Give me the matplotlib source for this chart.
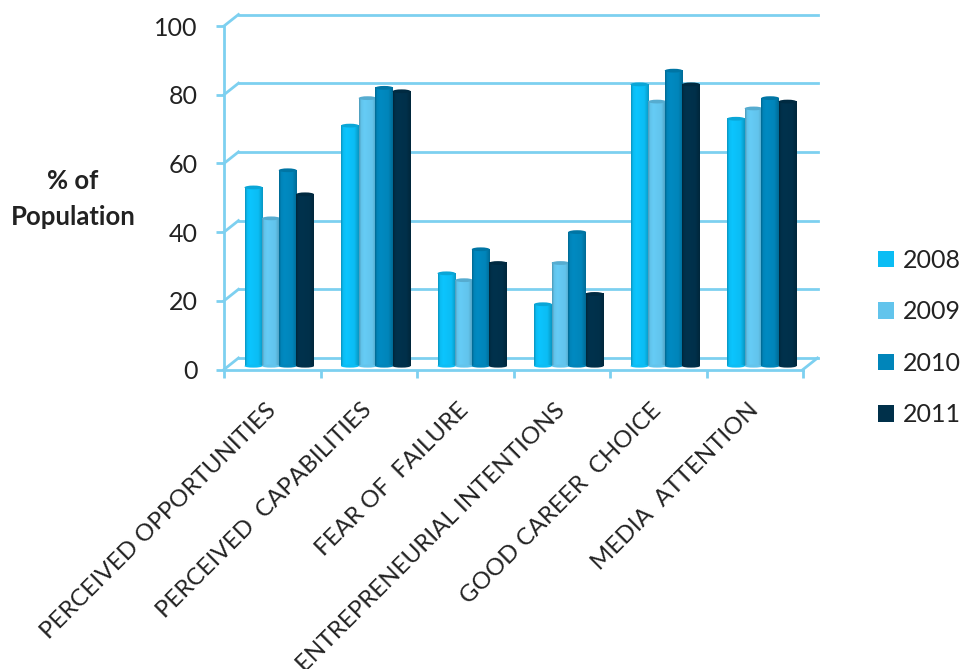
import numpy as np
import matplotlib
matplotlib.use("Agg")
import matplotlib.pyplot as plt
from matplotlib.colors import LinearSegmentedColormap, to_rgb
from matplotlib.patches import Ellipse, Patch
from matplotlib.transforms import ScaledTranslation

plt.rcParams['font.family'] = ['Lato', 'DejaVu Sans']

# ---------------- Data ----------------
categories = ["PERCEIVED OPPORTUNITIES", "PERCEIVED  CAPABILITIES", "FEAR OF  FAILURE",
              "ENTREPRENEURIAL INTENTIONS", "GOOD CAREER  CHOICE", "MEDIA  ATTENTION"]
years = ["2008", "2009", "2010", "2011"]
y2008 = [52, 70, 27, 18, 82, 72]
y2009 = [43, 78, 25, 30, 77, 75]
y2010 = [57, 81, 34, 39, 86, 78]
y2011 = [50, 80, 30, 21, 82, 77]
y_ticks = [0, 20, 40, 60, 80, 100]

series = [y2008, y2009, y2010, y2011]
colors = ['#0bbdf4', '#62c4ec', '#0085ba', '#00304a']
grid_color = '#7dd0f0'
text_color = '#222222'

# ---------------- Layout ----------------
W, H = 963, 669
fig = plt.figure(figsize=(W / 100, H / 100), dpi=100)
ax = fig.add_axes([224 / W, 1 - 369.5 / H, (803 - 224) / W, (369.5 - 26) / H])
ax.set_xlim(-0.5, 5.5)
ax.set_ylim(0, 100)
ax.patch.set_visible(False)

# Back wall sits up and to the right of the front axes
dx_px, dy_px = 14.5, 11.5
dx = dx_px * 6 / 579
dy = dy_px * 100 / 343.5
back = ax.transData + ScaledTranslation(dx_px / 100, dy_px / 100, fig.dpi_scale_trans)
for v in y_ticks:
    ax.plot([-0.5, 5.5], [v, v], color=grid_color, lw=2, transform=back, clip_on=False, zorder=1)
    ax.plot([-0.5, -0.5 + dx], [v, v + dy], color=grid_color, lw=2, clip_on=False, zorder=1)
ax.plot([5.5, 5.5 + dx], [0, dy], color=grid_color, lw=2, clip_on=False, zorder=1)

# ---------------- Bars ----------------
bar_w = 0.185
offsets = [-0.195, -0.012, 0.16, 0.34]
shade_pos = [0, 0.12, 0.3, 0.75, 1]
shade_val = [0.78, 1.0, 1.04, 1.0, 0.8]
base = 1
grad = np.linspace(0, 1, 64).reshape(1, -1)

z = 3
for j, (vals, c) in enumerate(zip(series, colors)):
    rgb = np.array(to_rgb(c))
    cmap = LinearSegmentedColormap.from_list(
        years[j], [(p, tuple(np.clip(rgb * s, 0, 1))) for p, s in zip(shade_pos, shade_val)])
    for i, v in enumerate(vals):
        x = i + offsets[j]
        top = base + v
        ax.imshow(grad, extent=[x - bar_w / 2, x + bar_w / 2, base, top], cmap=cmap,
                  aspect='auto', zorder=z, interpolation='bilinear')
        ax.add_patch(Ellipse((x, base), bar_w, 0.9, color=c, zorder=z, lw=0))
        ax.add_patch(Ellipse((x, top), bar_w, 1.1, color=np.clip(rgb * 0.88, 0, 1), zorder=z + 0.5, lw=0))
    z += 1
ax.set_xlim(-0.5, 5.5)
ax.set_ylim(0, 100)

# ---------------- Axes styling ----------------
for s in ['top', 'right']:
    ax.spines[s].set_visible(False)
for s in ['left', 'bottom']:
    ax.spines[s].set_color(grid_color)
    ax.spines[s].set_linewidth(2)
ax.set_yticks(y_ticks)
ax.tick_params(axis='y', direction='out', length=6, width=2, color=grid_color,
               labelsize=18, labelcolor=text_color, pad=13)
ax.set_xticks(np.arange(-0.5, 6, 1), labels=[])
ax.tick_params(axis='x', which='major', direction='out', length=6, width=2, color=grid_color)
ax.set_xticks(np.arange(6), labels=categories, minor=True)
ax.tick_params(axis='x', which='minor', length=0, pad=27, labelsize=17.3, labelcolor=text_color)
for lab in ax.get_xticklabels(minor=True):
    lab.set_rotation(45)
    lab.set_ha('right')
    lab.set_rotation_mode('anchor')
    lab.set_va('center')

fig.text(73 / W, 1 - 181 / H, "% of", ha='center', va='center', fontsize=18.5,
         fontweight='bold', color=text_color)
fig.text(73 / W, 1 - 217 / H, "Population", ha='center', va='center', fontsize=18.5,
         fontweight='bold', color=text_color)

# ---------------- Legend ----------------
handles = [Patch(facecolor=c, edgecolor='none', label=y) for c, y in zip(colors, years)]
fig.legend(handles=handles, loc='center left', bbox_to_anchor=(868 / W, 1 - 337.5 / H), frameon=False,
           fontsize=18, labelcolor=text_color, handlelength=0.64, handleheight=0.64,
           handletextpad=0.36, labelspacing=1.14, borderpad=0, borderaxespad=0.4)

fig.savefig("out.png", dpi=100)
